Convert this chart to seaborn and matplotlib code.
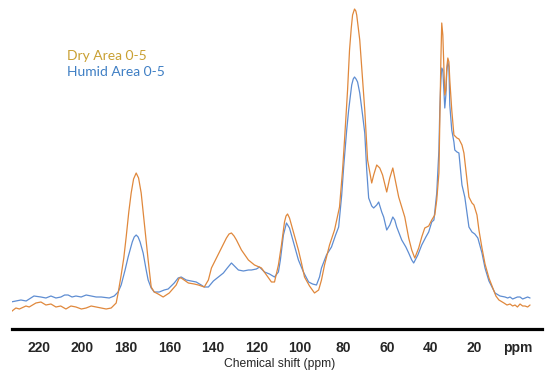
import matplotlib
matplotlib.use("Agg")
import matplotlib.pyplot as plt
import seaborn as sns
import pandas as pd

# ---- data (ppm, relative intensity) ----
dry_ppm = [232.9, 231.8, 230.6, 229.0, 226.0, 224.5, 221.4, 219.1, 216.8, 214.5, 212.2, 210.0, 207.6,
           205.3, 203.0, 200.5, 198.3, 196.0, 193.7, 191.4, 189.1,
           186.8, 184.5, 183.6, 182.2, 181.0, 179.9, 178.7, 177.6, 176.5, 175.3, 174.2, 173.0, 172.1,
           171.2, 169.8, 168.4, 167.0,
           165.2, 162.9, 160.1, 156.9, 155.5, 154.6, 151.3, 148.6, 146.7, 144.0, 142.1, 140.7,
           138.4, 136.1, 133.8, 132.6, 131.5, 130.3, 129.2, 126.9, 123.7, 120.9, 117.7, 115.4, 113.1, 111.7,
           109.9, 108.5, 107.1, 106.4, 105.7, 104.8, 103.9, 102.0, 100.7, 99.3, 97.9, 95.6, 93.3, 91.4, 90.1,
           88.7, 86.4, 84.1, 81.8, 80.4, 79.5, 78.1, 77.2, 76.4, 75.8, 74.9, 74.3, 73.9, 72.5, 71.2, 70.2,
           68.9, 67.0, 66.1, 64.7, 63.3, 62.0, 60.1, 58.7, 57.3, 56.0, 54.6, 53.2, 51.8, 50.0,
           48.6, 47.2, 45.4, 44.0, 42.6, 40.8, 39.4, 38.0, 37.1, 36.1, 35.7, 35.2, 34.8, 34.3,
           33.8, 33.4, 32.9, 32.5, 32.0, 31.5, 31.1, 30.2, 29.2, 27.8, 26.9, 25.5, 24.6, 23.2,
           22.3, 20.9, 20.0, 18.6, 17.7, 16.3, 14.9, 13.1, 11.7, 9.9, 8.5, 6.2, 4.8, 3.4, 2.2, 1.1, 0.0,
           -1.2, -2.4, -3.5, -4.7, -5.8]
dry_int = [18, 20, 22, 21, 24, 23, 27, 28, 25, 26, 23, 24, 21,
           24, 23, 21, 22, 24, 23, 22, 21,
           22, 27, 37, 55, 72, 93, 118, 137, 151, 157, 152, 137, 118,
           100, 70, 43, 38,
           36, 33, 37, 45, 52, 52, 47, 46, 45, 43, 50, 62,
           72, 82, 92, 96, 97, 94, 90, 80, 70, 65, 62, 55, 48, 48,
           65, 85, 108, 114, 116, 112, 105, 90, 80, 67, 53, 44, 37, 40, 50,
           65, 85, 100, 123, 160, 190, 240, 280, 302, 315, 321, 319, 315, 290, 250, 220,
           170, 147, 155, 165, 162, 155, 138, 152, 162, 148, 133, 123, 113, 92,
           80, 72, 82, 93, 102, 104, 110, 115, 130, 157, 210, 270, 307, 295,
           263, 235, 240, 262, 272, 268, 250, 220, 195, 192, 191, 185, 177, 150,
           133, 127, 125, 115, 100, 82, 66, 52, 44, 34, 30, 27, 25, 26, 24, 25, 23,
           26, 24, 24, 23, 25]

humid_ppm = [232.9, 230.6, 228.3, 225.9, 223.7, 222.3, 219.1, 216.8, 214.5, 212.2, 209.9, 208.2, 206.6,
             204.8, 203.0, 200.6, 198.3, 196.0, 193.7,
             191.4, 187.7, 185.4, 183.6, 182.2, 180.4, 179.0, 177.1, 176.2, 175.3, 174.4, 173.5, 172.1, 170.7,
             169.8, 168.4, 167.0, 164.7, 162.4, 160.6, 157.8, 156.0, 154.6, 152.3, 150.0, 147.7,
             145.4, 144.0, 142.1, 139.8, 137.5, 135.2, 133.4, 131.5, 129.7, 128.3, 126.0, 123.7,
             122.3, 120.0, 118.6, 116.3, 114.0, 111.7, 109.9, 109.0, 107.6, 106.2, 104.8, 103.0,
             100.7, 98.4, 96.0, 94.2, 92.4, 91.0, 90.1, 87.8, 85.5, 83.6, 82.2, 80.8, 79.9, 78.5,
             77.6, 76.2, 75.5, 74.9, 74.2, 73.5, 72.5, 71.2, 70.2, 69.3, 68.4, 67.0, 66.1, 64.7, 63.8, 62.4,
             61.5, 60.1, 58.7, 57.3, 56.4, 55.5, 53.2, 51.3, 50.0, 48.6, 47.7, 45.8, 44.0, 42.1,
             40.8, 39.4, 38.4, 37.1, 36.1, 35.7, 35.2, 34.8, 34.3, 33.8, 33.4, 32.9, 32.5, 32.0,
             31.5, 31.1, 30.2, 29.2, 28.8, 27.8, 26.9, 25.5, 24.2, 22.3, 20.9, 19.6, 18.2, 17.3,
             16.3, 14.9, 13.1, 11.7, 10.3, 8.0, 5.7, 4.5, 3.4, 2.2, 1.1, 0.0, -1.2, -2.4, -3.5, -4.7, -5.8]
humid_int = [28, 29, 30, 29, 32, 34, 33, 32, 34, 32, 33, 35, 35,
             33, 34, 33, 35, 34, 33,
             33, 32, 34, 38, 45, 60, 73, 88, 93, 95, 93, 88, 77, 60,
             50, 42, 38, 38, 40, 41, 47, 52, 53, 50, 49, 48,
             45, 43, 43, 49, 53, 57, 62, 67, 63, 60, 59, 60,
             60, 61, 63, 58, 56, 53, 58, 70, 95, 107, 102, 88,
             70, 58, 48, 46, 45, 53, 62, 75, 83, 95, 103, 135, 163, 200,
             220, 245, 251, 253, 251, 248, 237, 215, 197, 160, 132, 124, 122, 125, 128, 118,
             113, 100, 105, 113, 110, 103, 90, 83, 77, 70, 67, 75, 85, 93,
             98, 108, 110, 137, 180, 220, 250, 262, 260, 240, 222, 235, 258, 268,
             263, 225, 200, 188, 180, 178, 177, 145, 133, 103, 98, 96, 92, 85,
             77, 62, 49, 43, 37, 34, 33, 32, 33, 31, 32, 33, 33, 31, 32, 33, 32]

tick_values = [220, 200, 180, 160, 140, 120, 100, 80, 60, 40, 20, 0]
tick_labels = ["220", "200", "180", "160", "140", "120", "100", "80", "60", "40", "20", "ppm"]
series_names = ["Dry Area 0-5", "Humid Area 0-5"]
x_label = "Chemical shift (ppm)"

dry_df = pd.DataFrame({"ppm": dry_ppm, "intensity": dry_int})
humid_df = pd.DataFrame({"ppm": humid_ppm, "intensity": humid_int})

sns.set_style("white")
plt.rcParams["font.family"] = ["Liberation Sans", "DejaVu Sans"]

W, H = 550, 374
fig = plt.figure(figsize=(W / 100, H / 100), dpi=100)
ax = fig.add_axes([12 / W, 45 / H, 530 / W, 329 / H])

line_orange = "#E0883C"
line_blue = "#5E8DD2"

sns.lineplot(data=humid_df, x="ppm", y="intensity", ax=ax, color=line_blue,
             lw=0.9, estimator=None, sort=False)
sns.lineplot(data=dry_df, x="ppm", y="intensity", ax=ax, color=line_orange,
             lw=0.9, estimator=None, sort=False)

ax.set_xlim(232.4, -11.3)
ax.set_ylim(1, 330)
ax.set_yticks([])
ax.set_ylabel("")
ax.set_xlabel("")
for s in ["left", "right", "top"]:
    ax.spines[s].set_visible(False)
ax.spines["bottom"].set_linewidth(2.3)
ax.spines["bottom"].set_color("black")

ax.set_xticks(tick_values)
ax.set_xticklabels(tick_labels, fontsize=10, fontweight="bold")
ax.set_xticks([v + 10 for v in tick_values[:-1]] + [-10], minor=True)
ax.tick_params(axis="x", which="major", length=3.5, width=0.7, color="#F2E0C6",
               pad=5, direction="out")
ax.tick_params(axis="x", which="minor", length=2.5, width=0.7, color="#F5E8D6",
               direction="out")
ax.set_facecolor("white")

fig.text(280 / W, 1 - 364 / H, x_label, ha="center", va="center", fontsize=8.7)

fig.text(67 / W, 1 - 56 / H, series_names[0], ha="left", va="center",
         fontsize=10, color="#C9A032", family=["Lato", "DejaVu Sans"])
fig.text(67 / W, 1 - 72 / H, series_names[1], ha="left", va="center",
         fontsize=10, color="#3F7FC4", family=["Lato", "DejaVu Sans"])

fig.savefig("out.png", dpi=100)
